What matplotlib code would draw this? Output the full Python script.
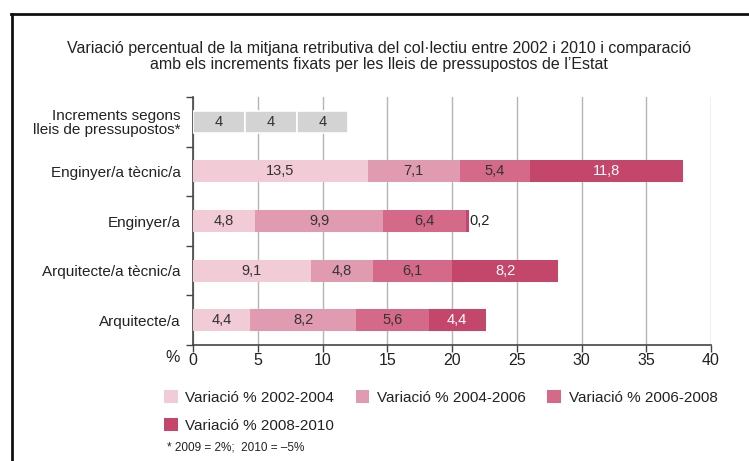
import matplotlib
matplotlib.use('Agg')
import matplotlib.pyplot as plt
from matplotlib.patches import Patch
from matplotlib.lines import Line2D
import numpy as np

plt.rcParams['font.family'] = ['Liberation Sans', 'DejaVu Sans']

# data (top to bottom)
categories = ['Increments segons\nlleis de pressupostos*', 'Enginyer/a tècnic/a', 'Enginyer/a',
              'Arquitecte/a tècnic/a', 'Arquitecte/a']
periods = ['Variació % 2002-2004', 'Variació % 2004-2006', 'Variació % 2006-2008', 'Variació % 2008-2010']
v_2002_2004 = [4, 13.5, 4.8, 9.1, 4.4]
v_2004_2006 = [4, 7.1, 9.9, 4.8, 8.2]
v_2006_2008 = [4, 5.4, 6.4, 6.1, 5.6]
v_2008_2010 = [0, 11.8, 0.2, 8.2, 4.4]
xticks = [0, 5, 10, 15, 20, 25, 30, 35, 40]
footnote = '* 2009 = 2%;  2010 = \u20135%'

colors = ['#f1cbd6', '#e09bb0', '#d4698a', '#c4466a']
gray = '#d3d3d3'
text_dark = '#333333'

fig = plt.figure(figsize=(7.49, 4.61), dpi=100)
ax = fig.add_axes([0.2577, 0.2516, 0.6916, 0.538])

series = [v_2002_2004, v_2004_2006, v_2006_2008, v_2008_2010]
y = np.arange(len(categories))
left = np.zeros(len(categories))
for k, vals in enumerate(series):
    vals = np.array(vals, dtype=float)
    for i in range(len(categories)):
        if vals[i] == 0:
            continue
        if i == 0:
            ax.barh(y[i], vals[i], left=left[i], height=0.44, color=gray,
                    edgecolor='white', linewidth=1.2, zorder=3)
        else:
            ax.barh(y[i], vals[i], left=left[i], height=0.44, color=colors[k],
                    linewidth=0, zorder=3)
        lab = ('%g' % vals[i]).replace('.', ',')
        if vals[i] < 1:
            ax.text(left[i] + vals[i] + 0.05, y[i], lab, ha='left', va='center',
                    fontsize=10.5, color='#222222', zorder=4)
        else:
            c = 'white' if k == 3 else text_dark
            ax.text(left[i] + vals[i] / 2, y[i], lab, ha='center', va='center',
                    fontsize=10.5, color=c, zorder=4)
    left += vals

ax.set_ylim(len(categories) - 0.5, -0.5)
ax.set_xlim(0, 40)
ax.set_yticks(y)
ax.set_yticklabels(categories, fontsize=11, color='#222222', linespacing=1.0)
ax.set_yticks(np.arange(-0.5, len(categories), 1), minor=True)
ax.tick_params(axis='y', which='major', length=0, pad=9)
ax.tick_params(axis='y', which='minor', length=5, width=1, color='#444444')
ax.set_xticks(xticks)
ax.set_xticklabels([str(t) for t in xticks], fontsize=11.5, color='#222222')
ax.tick_params(axis='x', length=5, width=1, color='#444444', pad=1)
ax.grid(axis='x', color='#b4b4b4', linewidth=1, zorder=0)
ax.set_axisbelow(True)
for s in ['top', 'right']:
    ax.spines[s].set_visible(False)
ax.spines['left'].set_color('#444444')
ax.spines['bottom'].set_color('#444444')
ax.spines['left'].set_linewidth(1.2)
ax.spines['bottom'].set_linewidth(1.2)

fig.text(165 / 749, 1 - 358 / 461, '%', fontsize=11.5, color='#222222', ha='left', va='center')

fig.text(0.506, 1 - 48 / 461, 'Variació percentual de la mitjana retributiva del col·lectiu entre 2002 i 2010 i comparació',
         ha='center', va='center', fontsize=11.5, color='#222222')
fig.text(0.506, 1 - 64 / 461, 'amb els increments fixats per les lleis de pressupostos de l\u2019Estat',
         ha='center', va='center', fontsize=11.5, color='#222222')

handles = [Patch(facecolor=c, edgecolor='none') for c in colors]
order = [0, 3, 1, 2]
fig.legend([handles[i] for i in order], [periods[i] for i in order], ncol=3,
           loc='upper left', bbox_to_anchor=(164 / 749, 1 - 390 / 461), frameon=False,
           fontsize=11, handlelength=0.9, handleheight=0.9, handletextpad=0.5,
           columnspacing=1.4, labelspacing=0.9, borderaxespad=0, borderpad=0,
           labelcolor='#222222')

fig.text(167 / 749, 1 - 447 / 461, footnote, fontsize=8.5, color='#222222', ha='left', va='center')

# frame
fig.add_artist(Line2D([11.5 / 749, 11.5 / 749], [0, 1 - 14 / 461], transform=fig.transFigure,
                      color='#111111', linewidth=2))
fig.add_artist(Line2D([11 / 749, 1], [1 - 14 / 461, 1 - 14 / 461], transform=fig.transFigure,
                      color='#111111', linewidth=2))

fig.savefig('out.png', dpi=100)
